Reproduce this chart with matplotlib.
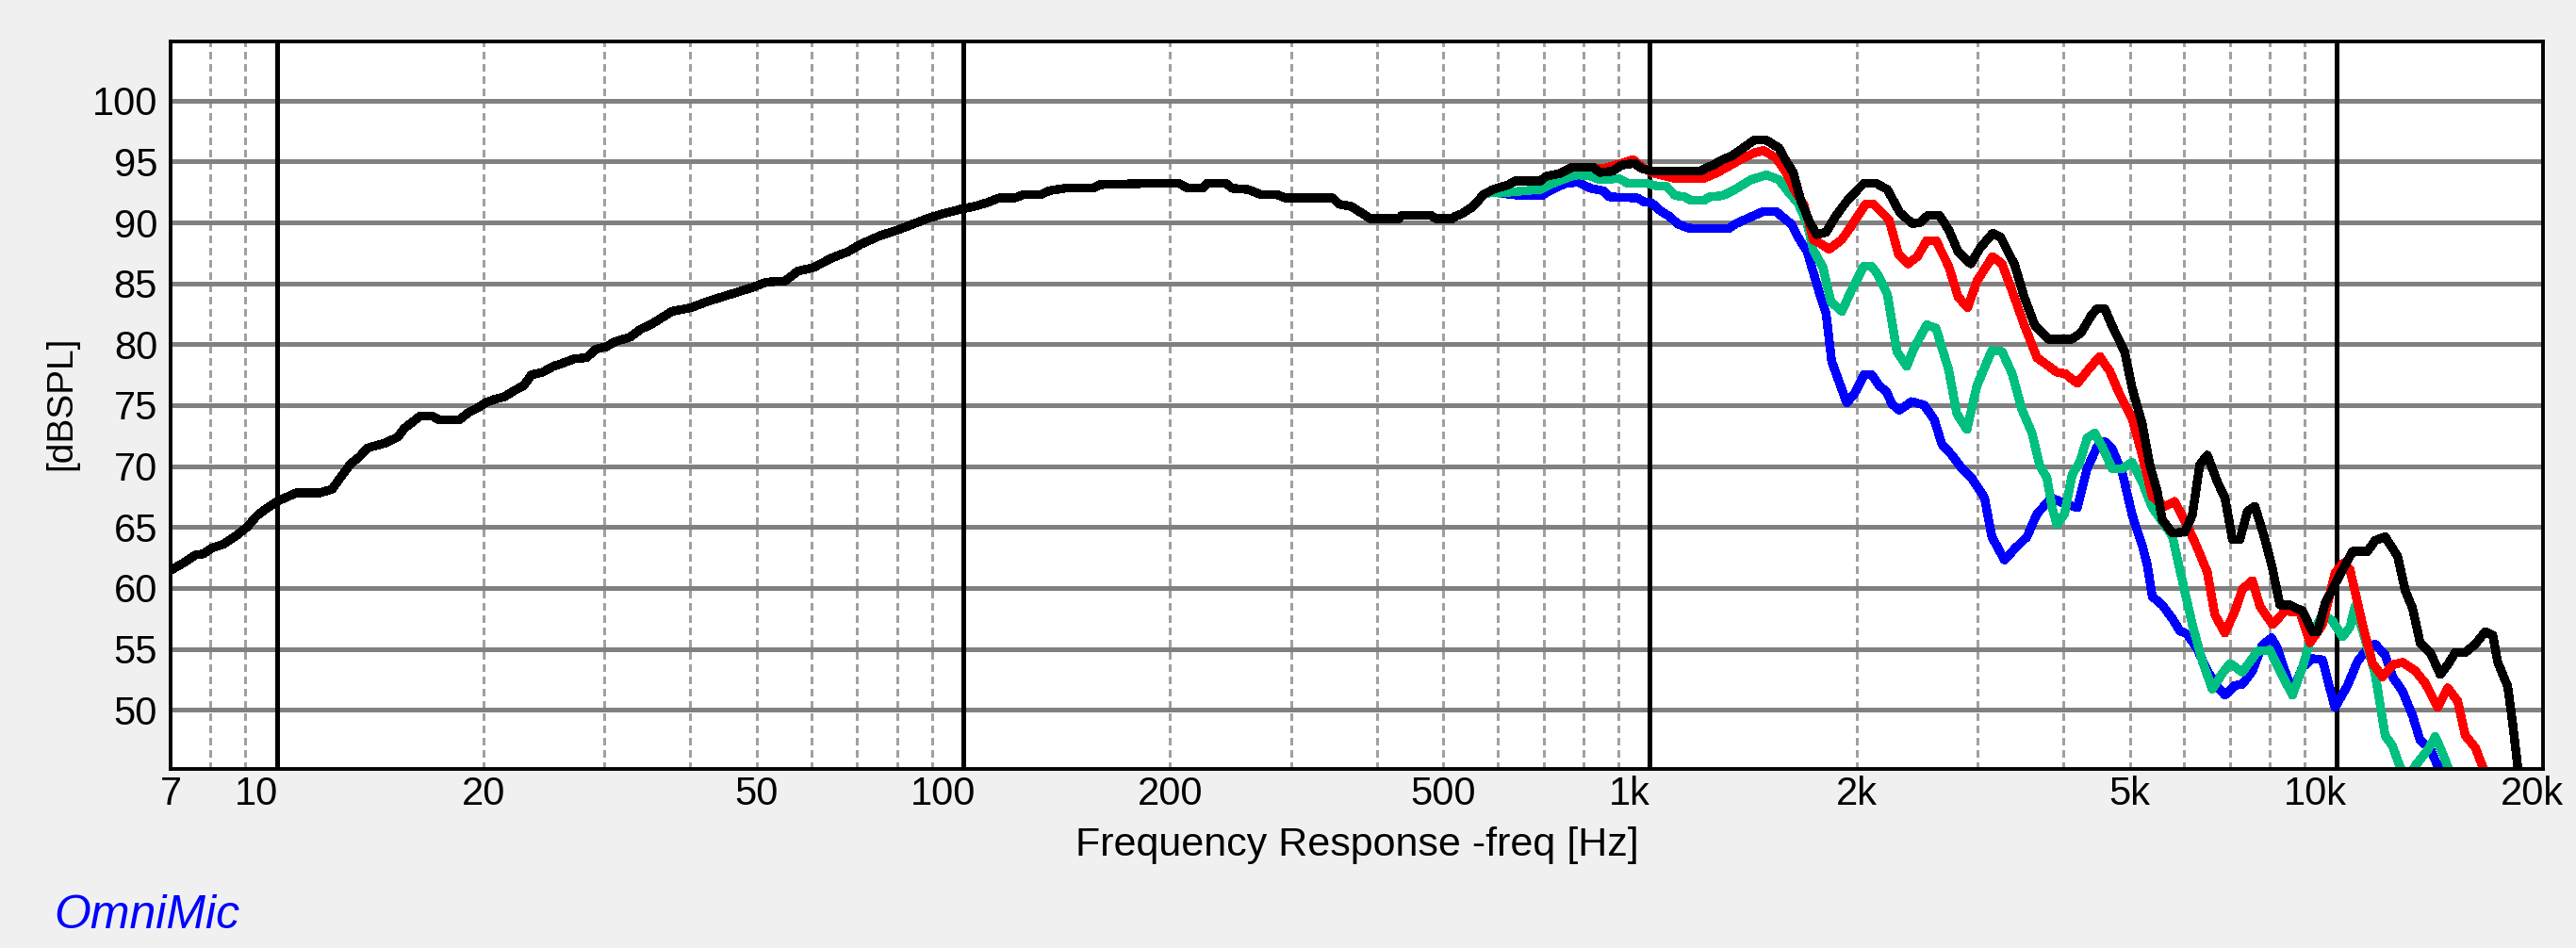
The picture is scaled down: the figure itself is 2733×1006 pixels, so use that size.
import matplotlib.pyplot as plt
from matplotlib.ticker import NullLocator
from matplotlib.transforms import ScaledTranslation

plt.rcParams['font.family'] = ['Liberation Sans', 'DejaVu Sans']

# Frequency response data (Hz, dBSPL)
black_f = [7.1, 7.33, 7.6, 7.81, 8.06, 8.36, 8.68, 9.05, 9.34, 9.64,
           10.0, 10.38, 10.65, 11.53, 12.03, 12.35, 12.81, 13.15, 13.57, 14.39,
           15.01, 15.33, 15.74, 16.16, 16.85, 17.21, 18.43, 19.02, 19.63, 20.12,
           20.8, 21.47, 22.16, 22.88, 23.49, 24.37, 25.28, 25.96, 27.07, 28.24,
           29.15, 30.18, 31.05, 32.73, 33.79, 35.24, 36.19, 37.6, 40.1, 42.3,
           44.6, 47.0, 49.5, 51.6, 55.0, 57.4, 60.5, 64.4, 67.9, 70.8,
           75.5, 80.4, 83.9, 88.4, 93.2, 99.3, 103.5, 108.0, 112.6, 118.7,
           122.5, 129.9, 133.3, 140.5, 154.6, 157.8, 185.4, 206, 212.6, 222.9,
           226.5, 241.2, 246.4, 259.7, 271, 285.6, 294.7, 345.2, 352.6, 367.8,
           379.6, 391.7, 430.8, 435.4, 478.6, 488.8, 515.2, 520.7, 531.8, 549,
           560.7, 572.6, 590.8, 622.8, 636.1, 692.2, 707, 737.5, 769.1, 827.9,
           845.6, 882, 910, 949.5, 975, 1012, 1184, 1210, 1236, 1276,
           1316, 1359, 1418, 1478, 1542, 1575, 1617, 1661, 1713, 1750,
           1806, 1864, 1945, 2049, 2138, 2218, 2313, 2413, 2477, 2544,
           2639, 2724, 2812, 2934, 3027, 3157, 3242, 3400, 3509, 3640,
           3816, 4110, 4242, 4400, 4480, 4600, 4714, 4915, 5041, 5213,
           5348, 5485, 5577, 5766, 6015, 6169, 6324, 6486, 6709, 6881,
           7056, 7237, 7422, 7611, 7870, 8070, 8276, 8557, 8927, 9230,
           9387, 9625, 10122, 10558, 11103, 11386, 11777, 12280, 12596, 12917,
           13245, 13702, 14168, 14531, 14898, 15410, 15936, 16480, 16902, 17185,
           17771, 18072, 18378, 18700]
black_db = [61.65, 62.1, 62.7, 62.8, 63.3, 63.6, 64.2, 65.0, 65.9, 66.5,
            67.1, 67.5, 67.8, 67.8, 68.1, 69.0, 70.2, 70.7, 71.5, 71.9,
            72.4, 73.1, 73.6, 74.1, 74.1, 73.8, 73.8, 74.4, 74.8, 75.2,
            75.5, 75.7, 76.2, 76.6, 77.5, 77.7, 78.2, 78.4, 78.8, 78.9,
            79.6, 79.8, 80.2, 80.6, 81.2, 81.7, 82.1, 82.7, 83.0, 83.5,
            83.9, 84.3, 84.7, 85.1, 85.2, 86.0, 86.3, 87.1, 87.6, 88.2,
            88.9, 89.4, 89.8, 90.3, 90.7, 91.1, 91.3, 91.6, 92.0, 92.0,
            92.3, 92.3, 92.6, 92.8, 92.8, 93.1, 93.2, 93.2, 92.8, 92.8,
            93.2, 93.2, 92.8, 92.7, 92.3, 92.3, 92.0, 92.0, 91.5, 91.3,
            90.8, 90.3, 90.3, 90.6, 90.6, 90.3, 90.3, 90.5, 90.7, 91.2,
            91.7, 92.3, 92.7, 93.1, 93.4, 93.4, 93.8, 94.0, 94.5, 94.5,
            94.1, 94.2, 94.7, 94.85, 94.4, 94.2, 94.2, 94.5, 94.7, 95.15,
            95.45, 96.0, 96.75, 96.75, 96.1, 95.15, 94.1, 91.7, 89.9, 89.0,
            89.2, 90.5, 91.9, 93.2, 93.2, 92.7, 90.8, 89.9, 90.0, 90.6,
            90.6, 89.4, 87.6, 86.6, 87.9, 89.1, 88.8, 86.5, 83.9, 81.5,
            80.4, 80.4, 80.9, 82.4, 82.9, 82.9, 81.5, 79.4, 76.4, 73.5,
            70.1, 67.9, 65.6, 64.5, 64.6, 66.0, 70.1, 70.9, 68.7, 67.4,
            64.0, 64.0, 66.3, 66.7, 64.0, 61.6, 58.6, 58.6, 58.1, 56.4,
            56.4, 58.7, 61.1, 63.0, 63.0, 63.9, 64.2, 62.6, 59.8, 58.3,
            55.5, 54.7, 52.9, 53.7, 54.7, 54.7, 55.4, 56.4, 56.1, 53.9,
            51.9, 48.8, 45.3, 42.0]

red_f = [560.7, 572.6, 590.8, 622.8, 636.1, 692.2, 707, 737.5, 769.1, 827.9,
         855, 910, 945, 975, 1012, 1089, 1197, 1249, 1302, 1359,
         1418, 1463, 1526, 1575, 1625, 1677, 1731, 1768, 1825, 1904,
         1965, 2007, 2061, 2116, 2161, 2231, 2302, 2376, 2453, 2531,
         2612, 2724, 2812, 2903, 2996, 3157, 3258, 3364, 3509, 3664,
         3918, 4022, 4194, 4335, 4521, 4675, 4834, 5041, 5213, 5393,
         5623, 5815, 6066, 6272, 6486, 6653, 6881, 7115, 7298, 7546,
         7739, 8070, 8416, 8851, 9153, 9546, 9954, 10209, 10469, 10918,
         11293, 11678, 12078, 12491, 13025, 13472, 14047, 14531, 15026, 15410,
         15936, 16343, 16700]
red_db = [91.7, 92.3, 92.7, 93.1, 93.4, 93.4, 93.8, 94.0, 94.5, 94.5,
          94.4, 94.85, 95.15, 94.5, 94.05, 93.6, 93.6, 94.05, 94.6, 95.2,
          95.7, 95.9, 95.3, 94.2, 92.65, 91.4, 88.55, 88.3, 87.8, 88.6,
          89.7, 90.5, 91.5, 91.5, 91.0, 90.2, 87.4, 86.6, 87.2, 88.5,
          88.5, 86.4, 83.9, 83.0, 85.2, 87.2, 86.6, 84.5, 81.6, 78.9,
          77.7, 77.6, 76.8, 77.8, 79.0, 77.8, 75.9, 73.9, 70.9, 67.5,
          66.7, 67.1, 65.1, 63.3, 61.3, 57.8, 56.3, 58.1, 59.9, 60.6,
          58.5, 57.0, 58.1, 58.0, 55.5, 57.0, 61.2, 62.0, 61.5, 57.0,
          53.8, 52.7, 53.7, 53.9, 53.2, 52.2, 50.2, 51.8, 50.7, 47.9,
          46.9, 45.3, 43.5]

green_f = [560.7, 572.6, 590.8, 603.6, 656.6, 692, 714.5, 769, 785.6, 819.4,
           845.6, 901, 930, 990.6, 1022, 1055, 1089, 1124, 1148, 1197,
           1223, 1276, 1330, 1403, 1478, 1542, 1591, 1643, 1695, 1731,
           1787, 1835, 1904, 1965, 2049, 2104, 2149, 2218, 2290, 2367,
           2426, 2531, 2612, 2724, 2800, 2896, 2995, 3149, 3258, 3370,
           3485, 3603, 3695, 3789, 3853, 3918, 4019, 4122, 4227, 4335,
           4446, 4560, 4714, 4875, 5041, 5213, 5393, 5766, 5965, 6169,
           6378, 6596, 6825, 6997, 7298, 7674, 8000, 8276, 8630, 8927,
           9230, 9546, 9872, 10209, 10469, 10648, 10918, 11386, 11777, 12078,
           12385, 12700, 13025, 13586, 13934, 14289, 14531, 14780]
green_db = [91.7, 92.3, 92.5, 92.4, 92.6, 92.7, 93.1, 93.8, 93.9, 93.8,
            93.5, 93.6, 93.2, 93.2, 93.0, 93.0, 92.2, 92.1, 91.8, 91.8,
            92.1, 92.2, 92.7, 93.5, 93.9, 93.5, 92.5, 91.6, 89.9, 87.7,
            86.3, 83.5, 82.7, 84.4, 86.4, 86.4, 85.7, 84.1, 79.4, 78.2,
            79.7, 81.6, 81.3, 77.9, 74.3, 73.0, 76.6, 79.5, 79.4, 77.6,
            74.6, 72.7, 70.1, 69.0, 66.6, 65.2, 66.1, 69.3, 70.3, 72.3,
            72.7, 71.6, 69.8, 69.8, 70.3, 68.7, 66.6, 64.3, 60.6, 57.0,
            54.0, 51.7, 53.0, 53.8, 53.1, 54.8, 54.9, 53.2, 51.2, 53.5,
            56.3, 57.8, 57.3, 56.0, 56.8, 58.5, 56.5, 53.0, 47.9, 47.0,
            45.3, 44.2, 45.4, 46.7, 47.8, 46.4, 45.3, 44.2]

blue_f = [560.7, 572.6, 590.8, 603.6, 649.7, 695.9, 714.5, 753.2, 785.6, 819.4,
          854.6, 873, 959, 980, 1006, 1033, 1067, 1100, 1136, 1160,
          1302, 1330, 1403, 1463, 1526, 1608, 1643, 1695, 1768, 1806,
          1840, 1887, 1935, 1984, 2052, 2104, 2158, 2213, 2251, 2308,
          2407, 2510, 2596, 2663, 2754, 2848, 2945, 3072, 3149, 3285,
          3397, 3543, 3664, 3853, 4019, 4194, 4335, 4483, 4597, 4714,
          4875, 5041, 5213, 5303, 5393, 5577, 5766, 5914, 6066, 6272,
          6486, 6709, 6881, 7115, 7298, 7546, 7800, 8050, 8210, 8416,
          8630, 8927, 9230, 9546, 9790, 9954, 10382, 10740, 11103, 11386,
          11777, 12078, 12491, 12917, 13245, 13702, 14047, 14400]
blue_db = [91.7, 92.3, 92.5, 92.4, 92.2, 92.2, 92.6, 93.2, 93.3, 92.8,
           92.6, 92.1, 92.0, 91.7, 91.6, 91.0, 90.5, 89.85, 89.55, 89.5,
           89.5, 89.85, 90.45, 90.9, 90.9, 89.85, 88.8, 87.6, 84.1, 82.5,
           78.6, 76.9, 75.2, 75.9, 77.5, 77.5, 76.6, 76.1, 75.1, 74.6,
           75.3, 75.0, 73.8, 71.8, 70.9, 69.8, 69.0, 67.4, 64.2, 62.3,
           63.2, 64.2, 66.1, 67.4, 66.9, 66.6, 69.8, 71.6, 72.0, 71.4,
           69.5, 66.0, 63.5, 61.9, 59.3, 58.6, 57.5, 56.5, 56.2, 55.0,
           53.2, 51.9, 51.2, 52.0, 52.1, 53.2, 55.3, 55.9, 55.0, 53.2,
           51.5, 53.5, 54.2, 54.1, 51.7, 50.2, 52.0, 54.0, 55.0, 55.4,
           54.5, 52.7, 51.5, 49.5, 47.5, 46.8, 45.4, 44.0]

x_ticks = [7, 10, 20, 50, 100, 200, 500, 1000, 2000, 5000, 10000, 20000]
x_labels = ['7', '10', '20', '50', '100', '200', '500', '1k', '2k', '5k', '10k', '20k']
y_ticks = [50, 55, 60, 65, 70, 75, 80, 85, 90, 95, 100]
decades = [10, 100, 1000, 10000]
minor_lines = [8, 9, 20, 30, 40, 50, 60, 70, 80, 90,
               200, 300, 400, 500, 600, 700, 800, 900,
               2000, 3000, 4000, 5000, 6000, 7000, 8000, 9000]

fig = plt.figure(figsize=(27.33, 10.06), dpi=100, facecolor='#f0f0f0')
ax = fig.add_axes([0.06623, 0.18917, 0.92096, 0.76709])
ax.set_facecolor('white')
ax.set_xscale('log')
ax.set_xlim(7, 20000)
ax.set_ylim(45.17, 104.85)

# grid
for f in minor_lines:
    ax.axvline(f, color='#a0a0a0', lw=2.3, linestyle=(0, (2.2, 1.8)),
               antialiased=False, zorder=1)
for f in decades:
    ax.axvline(f, color='black', lw=2.5, antialiased=False, zorder=1.2)
for y in y_ticks:
    ax.axhline(y, color='#808080', lw=2.2, antialiased=False, zorder=1.1)

# curves
lw = 6.0
ax.plot(blue_f, blue_db, color='#0000ff', lw=lw, antialiased=False, zorder=2)
ax.plot(green_f, green_db, color='#00bf80', lw=lw, antialiased=False, zorder=2.1)
ax.plot(red_f, red_db, color='#ff0000', lw=lw, antialiased=False, zorder=2.2)
ax.plot(black_f, black_db, color='black', lw=lw, antialiased=False, zorder=2.3)

ax.set_xticks(x_ticks)
ax.set_xticklabels(x_labels)
ax.xaxis.set_minor_locator(NullLocator())
ax.set_yticks(y_ticks)
ax.tick_params(axis='both', length=0, labelsize=30)
ax.tick_params(axis='x', pad=5)
ax.tick_params(axis='y', pad=10)

# the decade labels sit a bit left of their lines in the original
for lab in ax.get_xticklabels():
    shift = 0
    if lab.get_text() in ['10', '100', '1k', '10k']:
        shift = -0.22
    elif lab.get_text() == '20k':
        shift = -0.12
    lab.set_transform(lab.get_transform() + ScaledTranslation(shift, 0, fig.dpi_scale_trans))

for sp in ax.spines.values():
    sp.set_linewidth(2.8)
    sp.set_color('black')
    sp.set_zorder(3)

ax.set_xlabel('Frequency Response -freq [Hz]', fontsize=31)
ax.xaxis.label.set_va('baseline')
ax.xaxis.set_label_coords(0.5, -0.1196)
ax.set_ylabel('[dBSPL]', fontsize=28)
ax.yaxis.label.set_va('center')
ax.yaxis.set_label_coords(-0.0461, 0.503)

fig.text(0.0209, 0.0209, 'OmniMic', color='#0000ff', fontsize=36,
         style='italic', ha='left', va='baseline')

plt.savefig('out.png', dpi=100, facecolor=fig.get_facecolor())
